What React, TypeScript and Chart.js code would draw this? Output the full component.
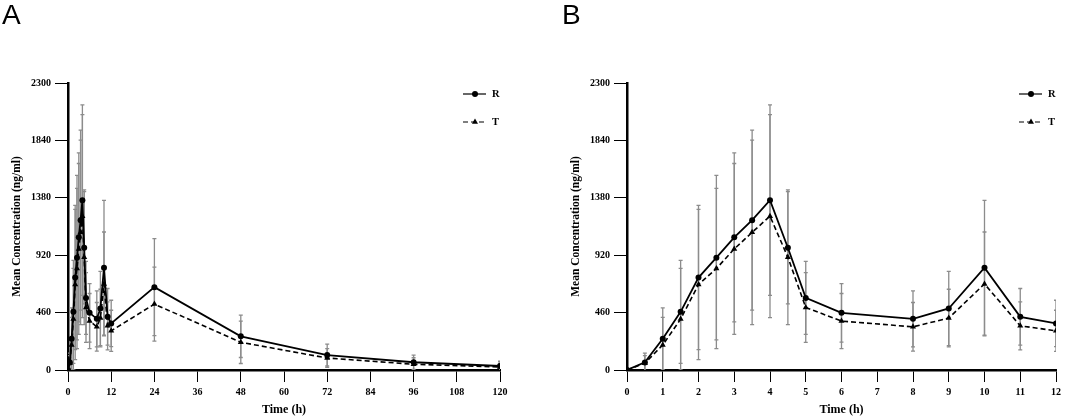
import React, { useEffect, useRef } from "react";
import { Chart, registerables } from "chart.js";

Chart.register(...registerables);

// sampling times (h) and mean / SD concentrations (ng/ml)
const times = [0, 0.5, 1, 1.5, 2, 2.5, 3, 3.5, 4, 4.5, 5, 6, 8, 9, 10, 11, 12, 24, 48, 72, 96, 120];
const rMean = [0, 61, 250, 466, 741, 900, 1063, 1201, 1361, 980, 578, 458, 410, 493, 820, 426, 373, 664, 270, 120, 62, 32];
const rSd = [0, 75, 248, 413, 578, 659, 677, 721, 763, 450, 293, 235, 224, 298, 540, 227, 186, 389, 170, 88, 58, 38];
const tMean = [0, 55, 200, 408, 685, 813, 970, 1103, 1233, 903, 501, 392, 346, 416, 690, 354, 314, 528, 222, 96, 46, 24];
const tSd = [0, 60, 221, 407, 602, 642, 685, 739, 814, 540, 280, 221, 195, 231, 416, 192, 165, 296, 170, 75, 52, 30];

const yTicks = [0, 460, 920, 1380, 1840, 2300];
const xTicksA = [0, 12, 24, 36, 48, 60, 72, 84, 96, 108, 120];
const xTicksB = [0, 1, 2, 3, 4, 5, 6, 7, 8, 9, 10, 11, 12];

const SERIF = "'Liberation Serif', 'Times New Roman', serif";

function drawMarker(ctx: CanvasRenderingContext2D, style: string, x: number, y: number, r: number) {
  ctx.beginPath();
  if (style === "triangle") {
    let rad = 0;
    ctx.moveTo(x + Math.sin(rad) * r, y - Math.cos(rad) * r);
    rad += (2 * Math.PI) / 3;
    ctx.lineTo(x + Math.sin(rad) * r, y - Math.cos(rad) * r);
    rad += (2 * Math.PI) / 3;
    ctx.lineTo(x + Math.sin(rad) * r, y - Math.cos(rad) * r);
    ctx.closePath();
  } else {
    ctx.arc(x, y, r, 0, Math.PI * 2);
  }
  ctx.fill();
}

// vertical SD bars behind the lines
const errorBars = {
  id: "errorBars",
  beforeDatasetsDraw(chart: any) {
    const { ctx, chartArea, scales } = chart;
    ctx.save();
    ctx.beginPath();
    ctx.rect(chartArea.left, chartArea.top, chartArea.right - chartArea.left, chartArea.bottom - chartArea.top);
    ctx.clip();
    ctx.strokeStyle = "#8c8c8c";
    ctx.lineWidth = 1.3;
    chart.data.datasets.forEach((ds: any, i: number) => {
      const meta = chart.getDatasetMeta(i);
      meta.data.forEach((pt: any, j: number) => {
        const e = ds.sd[j];
        if (!e) return;
        const v = ds.data[j].y;
        const x = pt.x;
        const y1 = scales.y.getPixelForValue(v + e);
        const y2 = scales.y.getPixelForValue(v - e);
        ctx.beginPath();
        ctx.moveTo(x, y1);
        ctx.lineTo(x, y2);
        ctx.moveTo(x - 2, y1);
        ctx.lineTo(x + 2, y1);
        ctx.moveTo(x - 2, y2);
        ctx.lineTo(x + 2, y2);
        ctx.stroke();
      });
    });
    ctx.restore();
  },
};

// legend inside the plot, top right
const innerLegend = {
  id: "innerLegend",
  afterDraw(chart: any) {
    const { ctx, chartArea } = chart;
    ctx.save();
    chart.data.datasets.forEach((ds: any, i: number) => {
      const y = chartArea.top + 11 + i * 28;
      const xm = chartArea.right - 25;
      ctx.strokeStyle = "#000";
      ctx.fillStyle = "#000";
      ctx.lineWidth = 1.2;
      ctx.setLineDash(ds.borderDash || []);
      ctx.beginPath();
      ctx.moveTo(xm - 12, y);
      ctx.lineTo(xm + 11, y);
      ctx.stroke();
      ctx.setLineDash([]);
      drawMarker(ctx, ds.pointStyle, xm, y, ds.pointRadius);
      ctx.font = `bold 10.5px ${SERIF}`;
      ctx.textBaseline = "middle";
      ctx.textAlign = "left";
      ctx.fillText(ds.label, chartArea.right - 8, y + 0.5);
    });
    ctx.restore();
  },
};

interface PanelProps {
  maxTime: number;
  xTicks: number[];
  padRight: number;
  width: number;
}

const Panel: React.FC<PanelProps> = ({ maxTime, xTicks, padRight, width }) => {
  const chartRef = useRef<HTMLCanvasElement>(null);
  const chartInstance = useRef<Chart | null>(null);

  useEffect(() => {
    if (!chartRef.current) return;
    if (chartInstance.current) chartInstance.current.destroy();

    const idx = times.map((t, i) => i).filter((i) => times[i] <= maxTime);
    const pts = (vals: number[]) => idx.map((i) => ({ x: times[i], y: vals[i] }));

    chartInstance.current = new Chart(chartRef.current, {
      type: "line",
      data: {
        datasets: [
          {
            label: "R",
            data: pts(rMean),
            sd: idx.map((i) => rSd[i]),
            borderColor: "#000",
            backgroundColor: "#000",
            borderWidth: 1.8,
            pointStyle: "circle",
            pointRadius: 3,
            pointBorderWidth: 0,
            tension: 0,
          } as any,
          {
            label: "T",
            data: pts(tMean),
            sd: idx.map((i) => tSd[i]),
            borderColor: "#000",
            backgroundColor: "#000",
            borderWidth: 1.6,
            borderDash: [5, 3],
            pointStyle: "triangle",
            pointRadius: 3.5,
            pointBorderWidth: 0,
            tension: 0,
          } as any,
        ],
      },
      options: {
        responsive: false,
        animation: false,
        layout: { padding: { left: 0, top: 83, right: padRight, bottom: 0 } },
        plugins: {
          legend: { display: false },
          tooltip: { enabled: false },
        },
        scales: {
          x: {
            type: "linear",
            min: 0,
            max: maxTime,
            afterBuildTicks: (axis: any) => {
              axis.ticks = xTicks.map((v) => ({ value: v }));
            },
            afterFit: (axis: any) => {
              axis.height = 48;
            },
            border: { display: true, color: "#000", width: 2.5 },
            grid: { drawOnChartArea: false, drawTicks: true, tickLength: 12, color: "#000", lineWidth: 1 },
            ticks: {
              color: "#000",
              padding: 4,
              maxRotation: 0,
              autoSkip: false,
              callback: (v: any) => String(v),
              font: { family: SERIF, size: 10, weight: "bold" },
            },
            title: {
              display: true,
              text: "Time (h)",
              color: "#000",
              padding: { top: 0, bottom: 1 },
              font: { family: SERIF, size: 12, weight: "bold" },
            },
          },
          y: {
            type: "linear",
            min: 0,
            max: 2300,
            afterBuildTicks: (axis: any) => {
              axis.ticks = yTicks.map((v) => ({ value: v }));
            },
            afterFit: (axis: any) => {
              axis.width = 68;
            },
            border: { display: true, color: "#000", width: 2.5 },
            grid: { drawOnChartArea: false, drawTicks: true, tickLength: 13, color: "#000", lineWidth: 1 },
            ticks: {
              color: "#000",
              padding: 4,
              autoSkip: false,
              callback: (v: any) => String(v),
              font: { family: SERIF, size: 10, weight: "bold" },
            },
            title: {
              display: true,
              text: "Mean Concentration (ng/ml)",
              color: "#000",
              padding: { top: 10, bottom: 0 },
              font: { family: SERIF, size: 11.5, weight: "bold" },
            },
          },
        },
      },
      plugins: [errorBars, innerLegend],
    });

    return () => {
      if (chartInstance.current) {
        chartInstance.current.destroy();
        chartInstance.current = null;
      }
    };
  }, [maxTime, xTicks, padRight]);

  return <canvas ref={chartRef} width={width} height={418} style={{ width, height: 418, display: "block" }} />;
};

const letterStyle: React.CSSProperties = {
  position: "absolute",
  top: 1,
  fontFamily: "'Liberation Sans', Arial, sans-serif",
  fontSize: 28,
  lineHeight: "28px",
  color: "#000",
};

export default function App() {
  return (
    <div style={{ position: "absolute", left: 0, top: 0, width: 1065, height: 418, background: "#fff" }}>
      <div style={{ position: "absolute", left: 0, top: 0 }}>
        <Panel maxTime={120} xTicks={xTicksA} padRight={32} width={532} />
      </div>
      <div style={{ position: "absolute", left: 559, top: 0 }}>
        <Panel maxTime={12} xTicks={xTicksB} padRight={7} width={506} />
      </div>
      <div style={{ ...letterStyle, left: 2 }}>A</div>
      <div style={{ ...letterStyle, left: 562 }}>B</div>
    </div>
  );
}
